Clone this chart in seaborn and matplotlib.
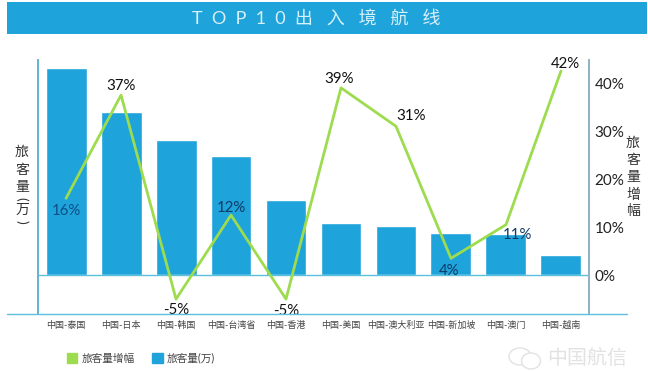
import matplotlib
matplotlib.use("Agg")
import matplotlib.pyplot as plt
import pandas as pd
import seaborn as sns
from matplotlib.lines import Line2D
from matplotlib.patches import Patch, Rectangle, Ellipse

routes = ["中国-泰国", "中国-日本", "中国-韩国", "中国-台湾省", "中国-香港",
          "中国-美国", "中国-澳大利亚", "中国-新加坡", "中国-澳门", "中国-越南"]
# no scale on the left axis in the picture, values are estimated from bar heights
passengers = [207, 163, 135, 119, 75, 52, 49, 42, 41, 20]
growth = [16, 37.5, -5, 12.5, -5, 39, 31, 3.5, 10.5, 42.5]
growth_labels = ["16%", "37%", "-5%", "12%", "-5%", "39%", "31%", "4%", "11%", "42%"]
growth_ticks = [0, 10, 20, 30, 40]

BLUE = "#1ea3da"
GREEN = "#9ddc4e"
GREY = "#e2e2e2"
W, H = 648, 371

sns.set_theme(style="white")
plt.rcParams["font.family"] = ["Lato", "Noto Sans CJK SC", "DejaVu Sans"]

df = pd.DataFrame({"route": routes, "passengers": passengers, "growth": growth})

fig = plt.figure(figsize=(W / 100, H / 100), dpi=100)
ax = fig.add_axes([38 / W, 1 - 314 / H, 551 / W, 254 / H])

sns.barplot(data=df, x="route", y="passengers", color=BLUE, width=0.745, saturation=1, ax=ax)
ax.set_xlim(-0.51, 9.51)
ax.set_ylim(-39, 215)
ax.set_xlabel("")
ax.set_ylabel("")
ax.set_yticks([])
ax.tick_params(axis="x", length=0, labelsize=6.5, labelcolor="#444444", pad=5)
ax.axhline(0, color="#5cc0dc", linewidth=1)

ax2 = ax.twinx()
sns.lineplot(data=df, x="route", y="growth", color=GREEN, linewidth=2, sort=False, ax=ax2)
ax2.set_ylim(-8.1, 44.8)
ax2.set_ylabel("")
ax2.set_yticks(growth_ticks)
ax2.set_yticklabels([f"{t}%" for t in growth_ticks])
ax2.tick_params(axis="y", length=0, labelsize=11, labelcolor="#222222", pad=4)

for spine_ax in (ax, ax2):
    spine_ax.spines["top"].set_visible(False)
    spine_ax.spines["bottom"].set_visible(False)
    spine_ax.spines["left"].set_color("#62b4d0")
    spine_ax.spines["right"].set_color("#8fb2c2")

# labels sit off the points by hand, as in the original
offsets = [(0, -13), (0, 9), (0, -11), (0, 7), (0, -12), (-2, 9), (15, 10), (-2, -13), (11, -10), (4, 7)]
label_colors = ["#0d4f86", "#111111", "#111111", "#0d3b66", "#111111", "#111111", "#111111", "#0d3b66", "#0d3b66", "#111111"]
for i, (lab, off) in enumerate(zip(growth_labels, offsets)):
    ax2.annotate(lab, (i, growth[i]), xytext=off, textcoords="offset pixels", ha="center",
                 va="center", fontsize=10.8, color=label_colors[i])

# title band and bottom rule
fig.add_artist(Rectangle((7 / W, 1 - 34 / H), 640 / W, 32 / H, transform=fig.transFigure,
                         facecolor=BLUE, edgecolor="none"))
fig.text(316 / W, 1 - 18.5 / H, "T  O  P  1  0  出   入   境   航   线", color="#d8f0f8", fontsize=13,
         ha="center", va="center")
fig.add_artist(Line2D([7 / W, 627 / W], [1 - 314 / H, 1 - 314 / H], color="#5cc0dc", linewidth=1))

# stacked axis titles
for y, ch in zip([152, 170, 187, 210], "旅客量万"):
    fig.text(22 / W, 1 - y / H, ch, fontsize=10, color="#333333", ha="center", va="center")
for y, ch in zip([199, 222], "()"):
    fig.text(22 / W, 1 - y / H, ch, fontsize=10, color="#333333", rotation=270, ha="center", va="center")
for y, ch in zip([143, 160, 177, 194, 211], "旅客量增幅"):
    fig.text(633 / W, 1 - y / H, ch, fontsize=10, color="#333333", ha="center", va="center")

handles = [Patch(color=GREEN, label="旅客量增幅"), Patch(color=BLUE, label="旅客量(万)")]
fig.legend(handles=handles, loc="center left", bbox_to_anchor=(57 / W, 1 - 358 / H), ncol=2, frameon=False,
           fontsize=7.7, handlelength=1, handleheight=1, handletextpad=0.4, columnspacing=1.6,
           labelcolor="#444444")

# watermark
fig.text(547 / W, 1 - 357 / H, "中国航信", fontsize=14.4, color=GREY, ha="left", va="center")
fig.add_artist(Ellipse((520 / W, 1 - 356.5 / H), 22 / W, 17 / H, transform=fig.transFigure,
                       facecolor="none", edgecolor=GREY, linewidth=1))
fig.add_artist(Ellipse((531 / W, 1 - 361 / H), 19 / W, 16 / H, transform=fig.transFigure,
                       facecolor="white", edgecolor=GREY, linewidth=1))

fig.savefig("out.png", dpi=100)
